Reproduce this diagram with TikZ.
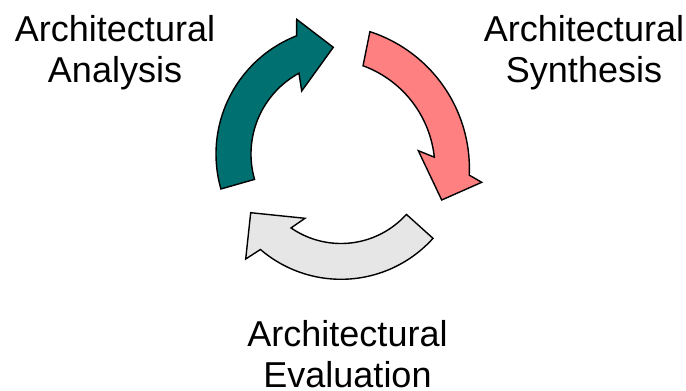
\documentclass[tikz,border=0pt]{standalone}
\usepackage{fontspec}
\newfontfamily\lblfont{Liberation Sans}
\definecolor{tealA}{RGB}{0,112,112}
\definecolor{pinkA}{RGB}{255,128,128}
\definecolor{grayA}{RGB}{230,230,230}
\tikzset{
  cyclearrow/.style={draw=black, line width=1.4pt, line join=miter},
  lbl/.style={font=\lblfont\fontsize{36}{40.5}\selectfont, align=center, inner sep=0pt, anchor=base}
}
\begin{document}
\begin{tikzpicture}[x=1pt,y=-1pt]
\useasboundingbox (0,0) rectangle (686,391);
% teal arrow (analysis)
\draw[cyclearrow, fill=tealA]
  plot[domain=196:111.4, samples=50] ({343+127*cos(\x)},{154-127*sin(\x)})
  -- (296.7,19.3) -- (333.3,47.3) -- (301.7,91)
  -- plot[domain=118.6:196, samples=50] ({343+92*cos(\x)},{154-92*sin(\x)})
  -- cycle;
% pink arrow (synthesis)
\draw[cyclearrow, fill=pinkA]
  plot[domain=72:-2.6, samples=50] ({325.4+144*cos(\x)},{168.6-144*sin(\x)})
  -- (481.7,182.3) -- (441.7,200) -- (418.3,150.7)
  -- plot[domain=6:69.9, samples=50] ({325.4+109.5*cos(\x)},{168.6-109.5*sin(\x)})
  -- cycle;
% gray arrow (evaluation)
\draw[cyclearrow, fill=grayA]
  plot[domain=-42:-130.6, samples=50] ({341+123.8*cos(\x)},{155.5-123.8*sin(\x)})
  -- (245.7,259) -- (250.7,212.7) -- (305,218.3)
  -- plot[domain=-124.6:-42, samples=50] ({341+88*cos(\x)},{155.5-88*sin(\x)})
  -- cycle;
\node[lbl] (analysis) at (115,82.4) {Architectural\\Analysis};
\node[lbl] (synthesis) at (584,82.4) {Architectural\\Synthesis};
\node[lbl] (evaluation) at (347.5,387) {Architectural\\Evaluation};
\end{tikzpicture}
\end{document}
